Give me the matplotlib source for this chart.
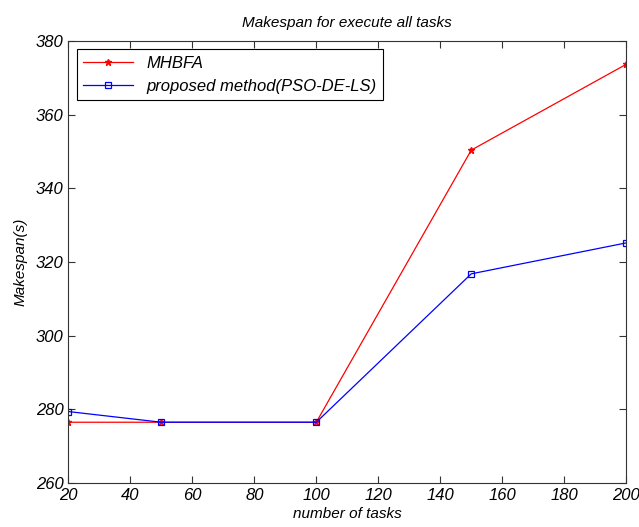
import matplotlib
matplotlib.use('Agg')
import matplotlib.pyplot as plt

#%% Data
tasks = [20, 50, 100, 150, 200]
mhbfa = [276.5, 276.5, 276.5, 350.4, 373.7]
pso_de_ls = [279.4, 276.5, 276.5, 316.8, 325.2]

plt.rcParams['font.family'] = ['Liberation Sans', 'DejaVu Sans']
plt.rcParams['font.style'] = 'italic'

#%% Plot
fig = plt.figure(figsize=(6.39, 5.27), dpi=100)
ax = fig.add_axes([0.107, 0.0835, 0.873, 0.8385])

ax.plot(tasks, mhbfa, color='red', lw=0.9, marker='*', ms=5,
        markerfacecolor='red', label='MHBFA')
ax.plot(tasks, pso_de_ls, color='blue', lw=0.9, marker='s', ms=4.5,
        markerfacecolor='none', markeredgewidth=0.9,
        label='proposed method(PSO-DE-LS)')

ax.set_xlim(20, 200)
ax.set_ylim(260, 380)
ax.set_xticks(range(20, 201, 20))
ax.set_yticks(range(260, 381, 20))
ax.tick_params(direction='in', top=True, right=True, labelsize=12,
               length=5, width=0.8, color='#333333')
for lab in ax.get_xticklabels() + ax.get_yticklabels():
    lab.set_fontstyle('italic')
for s in ax.spines.values():
    s.set_linewidth(0.8)
    s.set_color('#333333')

ax.set_title('Makespan for execute all tasks', fontsize=11, style='italic', pad=10)
ax.set_xlabel('number of tasks', fontsize=11, style='italic', labelpad=3)
ax.set_ylabel('Makespan(s)', fontsize=11, style='italic', labelpad=6)

leg = ax.legend(loc='upper left', fontsize=12, fancybox=False, framealpha=1,
                edgecolor='black', borderaxespad=0.5, handlelength=3.0,
                labelspacing=0.45)
leg.get_frame().set_linewidth(0.8)

fig.savefig('out.png', dpi=100)
